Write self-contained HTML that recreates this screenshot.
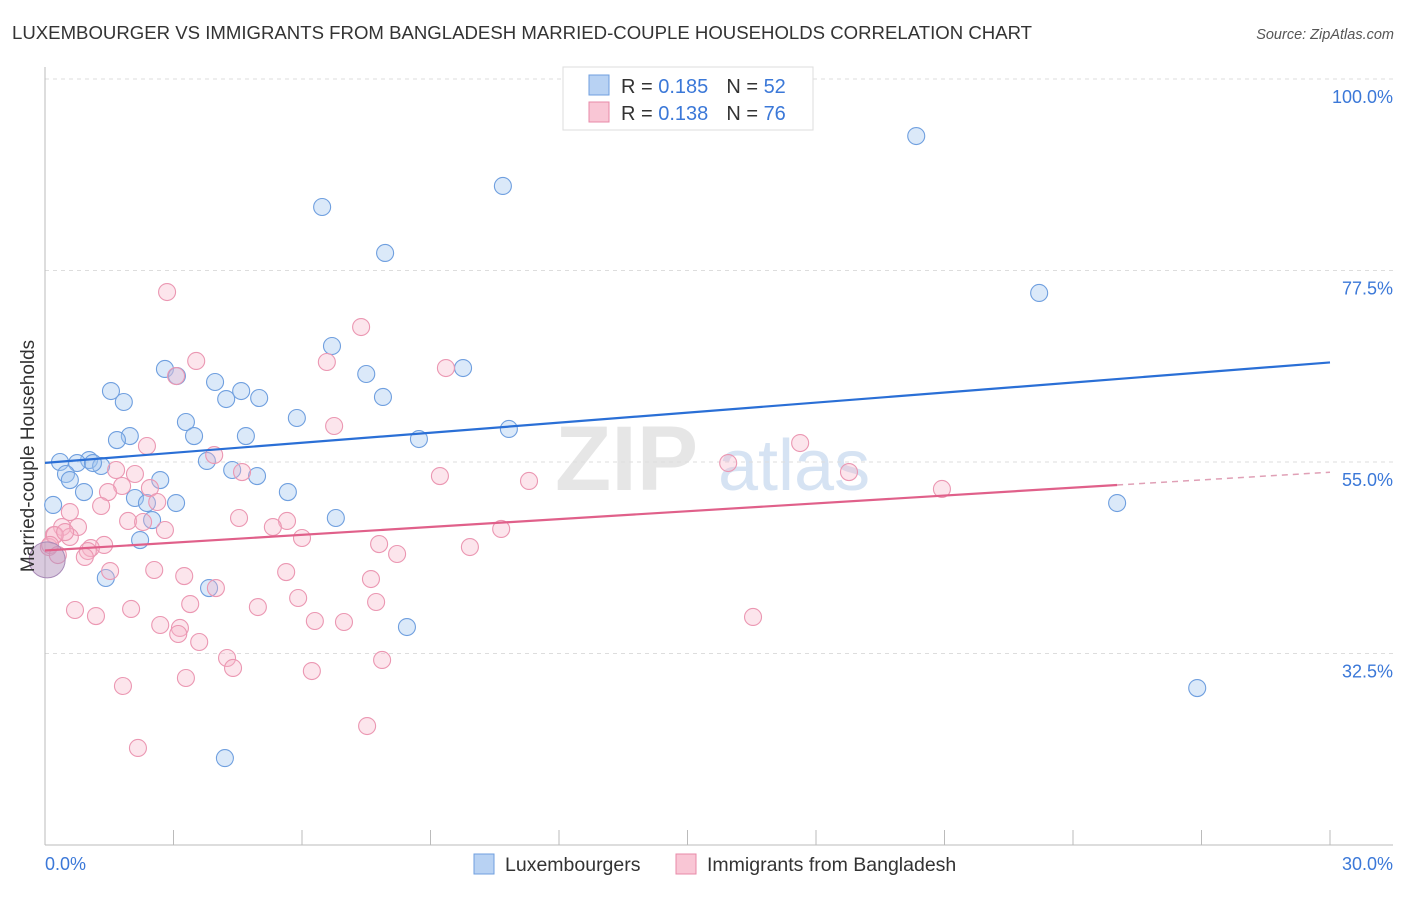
<!DOCTYPE html>
<html><head><meta charset="utf-8">
<style>
body{margin:0;background:#fff;font-family:"Liberation Sans",sans-serif;}
svg text{font-family:"Liberation Sans",sans-serif;}
</style></head>
<body>
<svg id="chart" width="1406" height="892" xmlns="http://www.w3.org/2000/svg">
<text x="12" y="39" font-size="18.6" fill="#333">LUXEMBOURGER VS IMMIGRANTS FROM BANGLADESH MARRIED-COUPLE HOUSEHOLDS CORRELATION CHART</text>
<text x="1394" y="39" font-size="14.5" fill="#555" font-style="italic" text-anchor="end">Source: ZipAtlas.com</text>
<text x="555" y="490" font-size="92" fill="#e6e6e6" font-family="Liberation Serif" font-weight="bold">ZIP</text>
<text x="718" y="490" font-size="72" fill="#d6e3f3">atlas</text>
<g id="grid"></g>
<g id="axes"></g>
<g id="pts"></g>
<g id="lines"></g>
<text transform="translate(34,456) rotate(-90)" font-size="19" fill="#333" text-anchor="middle">Married-couple Households</text>
<g>
<rect x="563" y="67" width="250" height="63" fill="#fff" stroke="#ddd"/>
<rect x="589" y="75" width="20" height="20" fill="#b8d2f3" stroke="#6f9fdf"/>
<rect x="589" y="102" width="20" height="20" fill="#f9c6d5" stroke="#e88aa8"/>
<text x="621" y="93" font-size="20" fill="#333">R = <tspan fill="#3b78d8">0.185</tspan><tspan dx="18">N = </tspan><tspan fill="#3b78d8">52</tspan></text>
<text x="621" y="120" font-size="20" fill="#333">R = <tspan fill="#3b78d8">0.138</tspan><tspan dx="18">N = </tspan><tspan fill="#3b78d8">76</tspan></text>
</g>
<g>
<rect x="474" y="854" width="20" height="20" fill="#b8d2f3" stroke="#6f9fdf"/>
<text x="505" y="871" font-size="19.5" fill="#333">Luxembourgers</text>
<rect x="676" y="854" width="20" height="20" fill="#f9c6d5" stroke="#e88aa8"/>
<text x="707" y="871" font-size="19.5" fill="#333">Immigrants from Bangladesh</text>
</g>
</svg>
<script>
const yTicks=[100,77.5,55,32.5];
const yTickLabels=["100.0%","77.5%","55.0%","32.5%"];
const xTicks=[0,3,6,9,12,15,18,21,24,27,30];
const xLabels=["0.0%","30.0%"];
const luxX=[20.34,10.69,6.47,7.94,23.21,6.70,2.80,7.50,9.76,3.08,3.97,1.54,4.58,1.84,4.23,5.00,7.89,5.88,3.29,10.83,8.73,1.98,1.68,3.48,4.69,0.35,1.03,0.75,1.31,1.12,3.78,0.49,0.58,4.37,4.95,2.69,0.91,2.10,5.67,0.19,2.38,3.06,2.50,6.79,25.03,2.22,1.42,3.83,8.45,26.90,4.20];
const luxY=[93.3,87.43,84.96,79.56,74.86,68.63,65.93,65.34,66.04,65.10,64.40,63.34,63.34,62.05,62.40,62.52,62.64,60.17,59.70,58.88,57.70,58.05,57.58,58.05,58.05,55.0,55.23,54.88,54.53,54.88,55.12,53.59,52.88,54.06,53.35,52.88,51.47,50.77,51.47,49.95,50.18,50.18,48.18,48.42,50.18,45.83,41.37,40.19,35.61,28.44,20.21];
const bgdX=[2.85,7.38,6.58,9.36,3.53,3.06,6.75,17.63,2.38,3.95,15.95,18.77,1.66,2.10,4.60,9.22,11.30,20.94,1.80,1.47,2.45,2.62,1.31,0.58,0.40,0.77,1.94,2.29,4.53,5.65,5.32,2.80,10.65,0.21,0.58,6.00,7.80,9.92,8.22,1.38,1.07,1.00,0.93,0.09,0.23,1.52,2.55,3.25,5.63,7.61,5.91,7.73,0.70,1.19,2.01,3.39,3.99,4.97,6.30,6.98,2.69,3.15,3.11,3.60,4.25,7.87,4.39,6.23,3.29,1.82,16.53,7.52,2.17,0.12,0.47,0.30];
const bgdY=[74.97,70.86,66.75,66.04,66.87,65.10,59.23,57.23,56.88,55.82,54.88,53.82,54.06,53.59,53.82,53.35,52.77,51.83,52.18,51.47,51.94,50.30,49.83,49.12,47.36,47.36,48.07,47.95,48.42,48.07,47.36,47.01,47.13,46.42,46.19,46.07,45.36,45.01,44.19,45.25,44.89,44.54,43.84,45.01,46.42,42.19,42.31,41.60,42.07,41.25,39.02,38.55,37.61,36.90,37.73,38.31,40.19,37.96,36.32,36.20,35.85,35.50,34.79,33.85,31.97,31.74,30.80,30.44,29.62,28.68,36.79,23.98,21.40,45.25,46.77,44.07];
const bigPoint=[0.05,43.5];
const luxTrend=[0,54.9,30,66.7];
const bgdTrend=[0,44.6,25.03,52.3,30,53.8];
const X=v=>45+v/30*1285;
const Y=v=>79+(100-v)/22.5*191.5;
const NS="http://www.w3.org/2000/svg";
function mk(tag,attrs,parent){const e=document.createElementNS(NS,tag);for(const k in attrs)e.setAttribute(k,attrs[k]);parent.appendChild(e);return e;}
const grid=document.getElementById('grid'),axes=document.getElementById('axes'),pts=document.getElementById('pts'),lines=document.getElementById('lines');
yTicks.forEach((t,i)=>{
 const l=mk('line',{x1:45,x2:1393,y1:Y(t),y2:Y(t),stroke:'#ddd','stroke-dasharray':'4,4'},grid);
 
 
 const tx=mk('text',{x:1393,y:Y(t)+24,'font-size':18,fill:'#3b78d8','text-anchor':'end'},grid);
 tx.textContent=yTickLabels[i];
 
 
});
const ya=mk('line',{x1:45,x2:45,y1:67,y2:845,stroke:'#bbb'},axes);


const xa=mk('line',{x1:45,x2:1393,y1:845,y2:845,stroke:'#bbb'},axes);


xTicks.forEach(t=>{
 const l=mk('line',{x1:X(t),x2:X(t),y1:830,y2:845,stroke:'#bbb'},axes);
 
 
});
const xl0=mk('text',{x:45,y:870,'font-size':18,fill:'#3b78d8'},axes);xl0.textContent=xLabels[0];


const xl1=mk('text',{x:1393,y:870,'font-size':18,fill:'#3b78d8','text-anchor':'end'},axes);xl1.textContent=xLabels[1];


luxX.forEach((v,i)=>{
 const c=mk('circle',{cx:X(v),cy:Y(luxY[i]),r:8.5,fill:'rgba(160,196,240,0.38)',stroke:'#6f9fdf','stroke-width':1.1},pts);
 
 
});
bgdX.forEach((v,i)=>{
 const c=mk('circle',{cx:X(v),cy:Y(bgdY[i]),r:8.5,fill:'rgba(247,180,200,0.35)',stroke:'#eb97b2','stroke-width':1.1},pts);
 
 
});
const bp=mk('circle',{cx:X(bigPoint[0]),cy:Y(bigPoint[1]),r:18,fill:'rgba(180,150,190,0.5)',stroke:'#a98bb8','stroke-width':1},pts);


const lt=mk('line',{x1:X(luxTrend[0]),y1:Y(luxTrend[1]),x2:X(luxTrend[2]),y2:Y(luxTrend[3]),stroke:'#2a6fd6','stroke-width':2.2},lines);


const bt=mk('line',{x1:X(bgdTrend[0]),y1:Y(bgdTrend[1]),x2:X(bgdTrend[2]),y2:Y(bgdTrend[3]),stroke:'#e0608a','stroke-width':2.2},lines);


const bd=mk('line',{x1:X(bgdTrend[2]),y1:Y(bgdTrend[3]),x2:X(bgdTrend[4]),y2:Y(bgdTrend[5]),stroke:'#e0a0b6','stroke-width':1.5,'stroke-dasharray':'6,5'},lines);


</script>
</body></html>
